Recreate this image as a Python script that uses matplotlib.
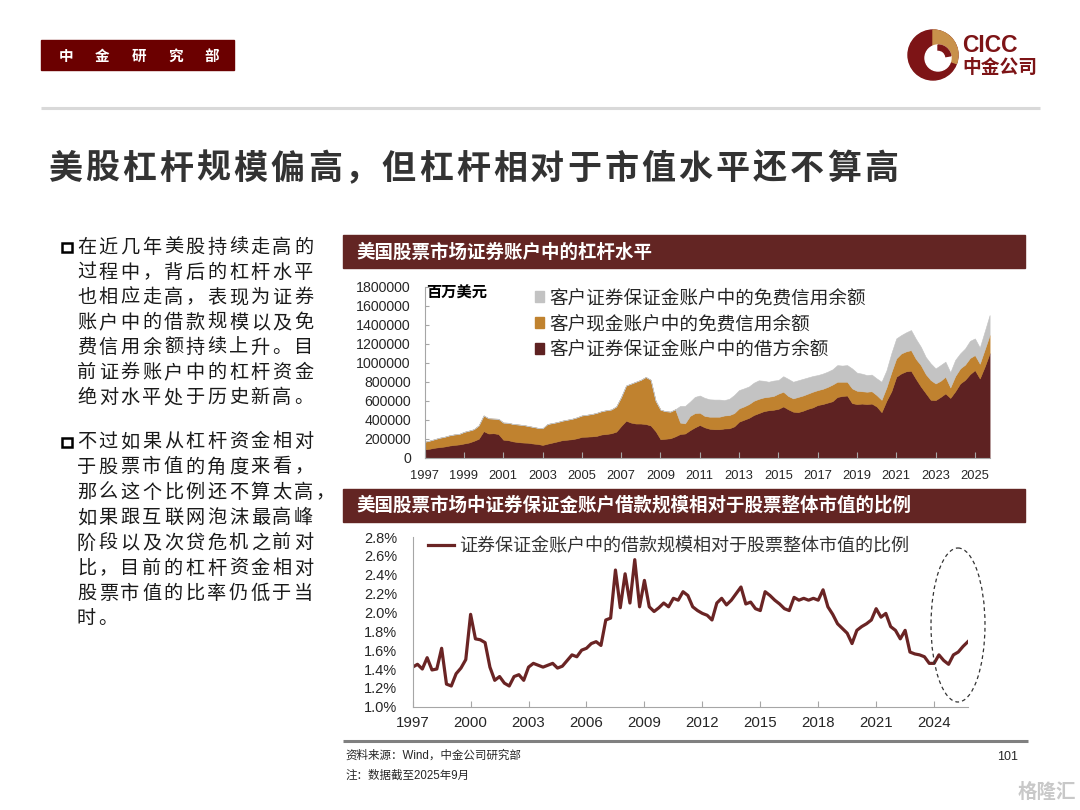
import numpy as np
import matplotlib
matplotlib.use("Agg")
import matplotlib.pyplot as plt
from matplotlib.patches import Rectangle, Ellipse, Circle, Wedge, Patch
from matplotlib.lines import Line2D
from matplotlib.ticker import FuncFormatter

plt.rcParams['font.family'] = ['Liberation Sans', 'Noto Sans CJK SC', 'DejaVu Sans']
CJK = ['Noto Sans CJK SC', 'DejaVu Sans']

# quarterly points, 1997Q1 ... 2025 (last = Sep 2025), unit: 千百万美元 (x1000 -> 百万美元)
debit_k = [
    88, 95, 105, 112, 118, 128, 135, 140, 150, 160, 178, 200, 280, 255, 258, 250,
    190, 185, 172, 165, 160, 158, 150, 145, 135, 148, 160, 172, 185, 190, 195, 205,
    220, 222, 225, 230, 245, 250, 258, 275, 335, 390, 370, 360, 360, 355, 340, 280,
    195, 200, 205, 225, 250, 255, 290, 320, 345, 320, 305, 300, 300, 308, 310, 330,
    380, 400, 420, 450, 470, 490, 500, 505, 515, 540, 510, 485, 480, 495, 515, 530,
    555, 565, 580, 595, 640, 650, 655, 575, 565, 570, 565, 570, 540, 480, 600, 700,
    853, 888, 910, 916, 830, 750, 680, 610, 607, 640, 677, 630, 700, 782, 820, 880,
    923, 835, 960, 1100]
cash_free_k = [
    80, 85, 90, 98, 102, 107, 110, 110, 122, 125, 122, 140, 165, 160, 154, 160,
    180, 183, 183, 185, 185, 177, 175, 170, 175, 207, 205, 203, 205, 210, 215, 220,
    225, 230, 235, 242, 245, 250, 250, 265, 305, 370, 410, 440, 460, 495, 480, 320,
    310, 290, 280, 285, 120, 107, 150, 150, 129, 120, 127, 132, 132, 137, 139, 140,
    140, 140, 145, 150, 150, 145, 142, 145, 160, 155, 140, 140, 160, 160, 160, 165,
    157, 160, 165, 175, 160, 150, 145, 155, 140, 130, 130, 130, 120, 130, 140, 200,
    193, 210, 210, 217, 210, 225, 200, 208, 175, 170, 176, 110, 160, 158, 160, 170,
    158, 155, 180, 191]
margin_free_k = [0] * 52 + [
    175, 183, 150, 170, 181, 190, 183, 180, 180, 162, 171, 190,
    192, 190, 185, 190, 195, 175, 158, 162, 143, 163, 180, 175, 175, 175, 170, 165,
    158, 160, 160, 160, 175, 170, 175, 210, 190, 185, 175, 175, 175, 190, 180, 200,
    210, 193, 200, 211, 210, 193, 180, 175, 158, 165, 158, 160, 170, 158, 170, 180,
    175, 170, 190, 211]
# 借款规模 / 股票整体市值 (%)
ratio = [
    1.42, 1.45, 1.40, 1.52, 1.39, 1.40, 1.62, 1.24, 1.22, 1.35, 1.41, 1.50, 1.98, 1.72, 1.71, 1.68,
    1.42, 1.28, 1.32, 1.25, 1.22, 1.32, 1.34, 1.28, 1.42, 1.46, 1.44, 1.42, 1.44, 1.46, 1.41, 1.43,
    1.49, 1.55, 1.53, 1.60, 1.62, 1.67, 1.69, 1.65, 1.92, 1.94, 2.45, 2.05, 2.41, 2.10, 2.56, 2.06,
    2.34, 2.06, 2.01, 2.05, 2.10, 2.06, 2.15, 2.13, 2.22, 2.18, 2.06, 2.02, 1.99, 1.97, 1.92, 2.10,
    2.15, 2.08, 2.13, 2.20, 2.27, 2.09, 2.11, 2.04, 2.02, 2.22, 2.18, 2.13, 2.09, 2.04, 2.02, 2.16,
    2.13, 2.15, 2.13, 2.15, 2.13, 2.24, 2.06, 1.98, 1.88, 1.83, 1.78, 1.67, 1.81, 1.85, 1.88, 1.92,
    2.04, 1.95, 1.99, 1.85, 1.81, 1.72, 1.81, 1.58, 1.56, 1.55, 1.53, 1.46, 1.46, 1.55, 1.49, 1.45,
    1.55, 1.58, 1.64, 1.69]

top_years = list(range(1997, 2026, 2))
bottom_years = list(range(1997, 2025, 3))
legend_top = ['客户证券保证金账户中的免费信用余额', '客户现金账户中的免费信用余额', '客户证券保证金账户中的借方余额']
legend_bottom = '证券保证金账户中的借款规模相对于股票整体市值的比例'

para1 = ['在近几年美股持续走高的', '过程中，背后的杠杆水平', '也相应走高，表现为证券',
         '账户中的借款规模以及免', '费信用余额持续上升。目', '前证券账户中的杠杆资金',
         '绝对水平处于历史新高。']
para2 = ['不过如果从杠杆资金相对', '于股票市值的角度来看，', '那么这个比例还不算太高，',
         '如果跟互联网泡沫最高峰', '阶段以及次贷危机之前对', '比，目前的杠杆资金相对',
         '股票市值的比率仍低于当', '时。']

DARK = '#5E2222'
ORANGE = '#C0822F'
GRAY = '#C3C3C3'
BAR = '#632523'
LINE = '#6A2424'
TXT = '#262626'

t = 1997 + np.arange(len(debit_k)) / 4
debit = np.array(debit_k) * 1000
cash_free = np.array(cash_free_k) * 1000
margin_free = np.array(margin_free_k) * 1000

fig = plt.figure(figsize=(10.8, 8.1), dpi=100)

# ---- top chart: stacked areas
ax1 = fig.add_axes([0.3932, 0.4349, 0.5231, 0.2111])
polys = ax1.stackplot(t, debit, cash_free, margin_free, colors=[DARK, ORANGE, GRAY])
for p in polys:
    p.set_edgecolor(p.get_facecolor())
    p.set_linewidth(0.4)
ax1.set_xlim(1997, 2025.75)
ax1.set_ylim(0, 1800000)
ax1.set_yticks(np.arange(0, 1800001, 200000))
ax1.yaxis.set_major_formatter(FuncFormatter(lambda v, p: f"{int(v)}"))
ax1.set_xticks(top_years)
ax1.set_xticklabels([str(y) for y in top_years])
ax1.tick_params(axis='y', direction='in', length=3, color='#A6A6A6', labelsize=10.2,
                labelcolor=TXT, pad=10)
ax1.tick_params(axis='x', direction='in', length=4, color='#A6A6A6', labelsize=9.3,
                labelcolor=TXT, pad=9)
for s in ['top', 'right']:
    ax1.spines[s].set_visible(False)
for s in ['left', 'bottom']:
    ax1.spines[s].set_color('#A6A6A6')
    ax1.spines[s].set_linewidth(0.8)
handles = [Patch(color=GRAY), Patch(color=ORANGE), Patch(color=DARK)]
ax1.legend(handles, legend_top, loc='upper left', bbox_to_anchor=(0.195, 0.985),
           frameon=False, prop={'family': CJK, 'size': 13.4}, handlelength=0.5,
           handleheight=0.5, handletextpad=0.3, labelspacing=0.42,
           borderpad=0, borderaxespad=0, labelcolor=TXT)

# ---- bottom chart: ratio line
ax2 = fig.add_axes([0.3821, 0.1275, 0.5141, 0.2095])
ax2.plot(t, ratio, color=LINE, lw=2.3, solid_joinstyle='round')
ax2.set_xlim(1997, 2025.75)
ax2.set_ylim(1.0, 2.8)
ax2.set_yticks(np.arange(1.0, 2.81, 0.2))
ax2.yaxis.set_major_formatter(FuncFormatter(lambda v, p: f"{v:.1f}%"))
ax2.set_xticks(bottom_years)
ax2.set_xticklabels([str(y) for y in bottom_years])
ax2.tick_params(axis='y', length=0, labelsize=10.5, labelcolor=TXT, pad=11)
ax2.tick_params(axis='x', direction='in', length=4, color='#A6A6A6', labelsize=10.8,
                labelcolor=TXT, pad=7)
for s in ['top', 'right']:
    ax2.spines[s].set_visible(False)
for s in ['left', 'bottom']:
    ax2.spines[s].set_color('#A6A6A6')
    ax2.spines[s].set_linewidth(0.8)
ax2.legend([Line2D([0], [0], color=LINE, lw=2.3)], [legend_bottom], loc='upper left',
           bbox_to_anchor=(0.028, 0.998), frameon=False, prop={'family': CJK, 'size': 13},
           handlelength=1.45, handletextpad=0.25, borderpad=0, borderaxespad=0,
           labelcolor='#333333')

# ---- page decoration, pixel coordinates
ov = fig.add_axes([0, 0, 1, 1], zorder=10)
ov.set_xlim(0, 1080)
ov.set_ylim(810, 0)
ov.axis('off')
ov.patch.set_alpha(0)


def spaced(x, y, s, adv, **kw):
    for i, ch in enumerate(s):
        ov.text(x + i * adv, y, ch, ha='left', va='center', **kw)


ov.add_patch(Rectangle((41, 40), 193, 30, color='#6B0000'))
for i, ch in enumerate('中金研究部'):
    ov.text(66 + 36.5 * i, 55.5, ch, ha='center', va='center', color='white',
            fontsize=10.5, fontweight='bold', family=CJK)

# logo
LOGO = '#7D1416'
ov.add_patch(Circle((933, 55), 25, color=LOGO))
ov.add_patch(Wedge((933, 55), 25, -90, 20, color='#C8914B'))
ov.add_patch(Circle((938, 58), 13, color='white'))
ov.add_patch(Wedge((938, 58), 13, -90, -10, width=5, color=LOGO))
ov.text(962, 46, 'CICC', ha='left', va='center', color=LOGO, fontsize=16.5,
        fontweight='bold', family=['Liberation Sans'])
ov.text(962, 67, '中金公司', ha='left', va='center', color=LOGO, fontsize=13.5,
        fontweight='bold', family=CJK)

ov.plot([41, 1040], [108, 108], color='#D9D9D9', lw=2.2, solid_capstyle='butt')

spaced(48, 168, '美股杠杆规模偏高，但杠杆相对于市值水平还不算高', 37.1,
       fontsize=24.5, fontweight='bold', color='#333333', family=CJK)

# left bullets
ov.add_patch(Rectangle((61.5, 243), 10, 9, fill=False, ec='black', lw=1.8))
for i, line in enumerate(para1):
    spaced(77, 247.5 + 25 * i, line, 21.7, fontsize=13.8, color='#1A1A1A', family=CJK)
ov.add_patch(Rectangle((61.5, 437.5), 10, 9, fill=False, ec='black', lw=1.8))
for i, line in enumerate(para2):
    spaced(77, 441.7 + 25.3 * i, line, 21.7, fontsize=13.8, color='#1A1A1A', family=CJK)

# chart title bars
ov.add_patch(Rectangle((343, 235), 682, 33, color=BAR))
ov.text(356, 252, '美国股票市场证券账户中的杠杆水平', ha='left', va='center', color='white',
        fontsize=13.3, fontweight='bold', family=CJK)
ov.add_patch(Rectangle((343, 489), 682, 33, color=BAR))
ov.text(356, 505.5, '美国股票市场中证券保证金账户借款规模相对于股票整体市值的比例', ha='left',
        va='center', color='white', fontsize=13.3, fontweight='bold', family=CJK)

ov.text(426, 293, '百万美元', ha='left', va='center', color='black', fontsize=11,
        fontweight='bold', family=CJK)

ov.add_patch(Ellipse((958, 625), 54, 154, fill=False, ec='#333333', lw=0.9, ls=(0, (3, 2.5))))

# footer
ov.plot([343, 1028], [741, 741], color='#808080', lw=2.2, solid_capstyle='butt')
ov.text(345, 756, '资料来源：Wind，中金公司研究部', ha='left', va='center', color=TXT, fontsize=8.3)
ov.text(345, 776, '注：数据截至2025年9月', ha='left', va='center', color=TXT, fontsize=8.3)
ov.text(1018, 757, '101', ha='right', va='center', color=TXT, fontsize=9)
ov.text(1076, 792, '格隆汇', ha='right', va='center', color='#C8C8C8', fontsize=14,
        fontweight='bold', family=CJK)

fig.savefig('out.png', dpi=100)
